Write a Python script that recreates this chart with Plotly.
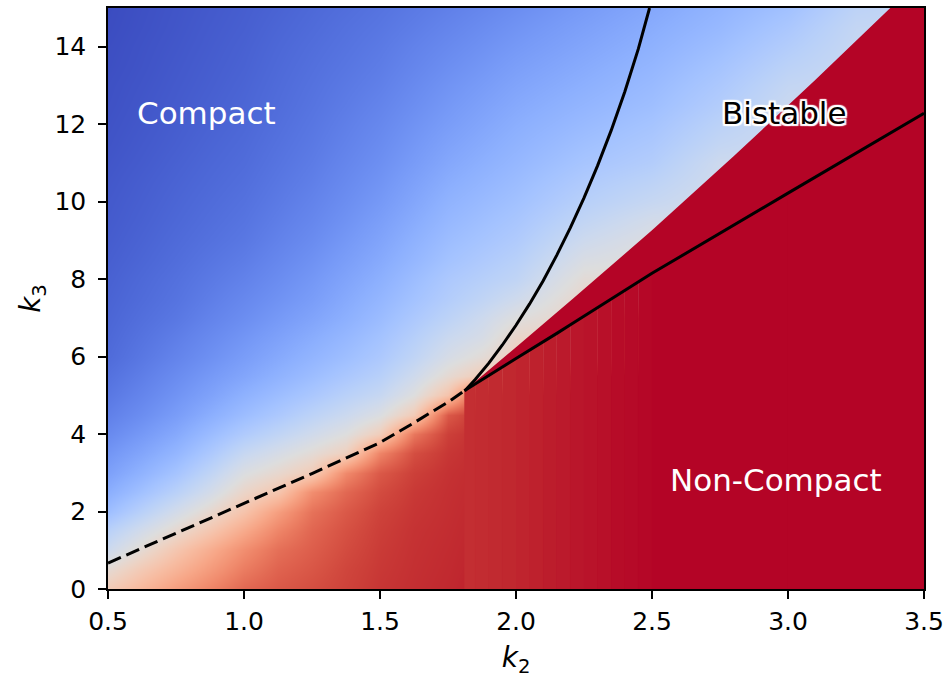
import plotly.graph_objects as go

# ---- axis extents -------------------------------------------------------
K2_RANGE = [0.5, 3.5]
K3_RANGE = [0, 15]
K2_TICKS = [0.5, 1.0, 1.5, 2.0, 2.5, 3.0, 3.5]
K3_TICKS = [0, 2, 4, 6, 8, 10, 12, 14]

# ---- order-parameter map (0 = compact, 1 = non-compact) -------------------
# one column of values per k2, listed from k3 = 0 up to k3 = 15 in steps of 0.5
K2_GRID = [0.5, 0.625, 0.75, 0.875, 1.0, 1.125, 1.25, 1.375, 1.5, 1.625,
           1.75, 1.875, 2.0, 2.25, 2.5, 2.75, 3.0, 3.25, 3.5]
K3_GRID = [i * 0.5 for i in range(31)]
FIELD_COLUMNS = [
    # k2 = 0.5
    [0.60, 0.53, 0.44, 0.38, 0.30, 0.245, 0.205, 0.175, 0.145, 0.12, 0.10, 0.085, 0.07, 0.063,
     0.057, 0.052, 0.047, 0.042, 0.037, 0.033, 0.03, 0.026, 0.022, 0.018, 0.015, 0.012, 0.01,
     0.007, 0.005, 0.002, 0.0],
    # k2 = 0.625
    [0.67, 0.61, 0.53, 0.46, 0.38, 0.31, 0.26, 0.22, 0.185, 0.155, 0.133, 0.116, 0.10, 0.089,
     0.079, 0.071, 0.065, 0.058, 0.052, 0.047, 0.043, 0.039, 0.034, 0.03, 0.026, 0.023, 0.02,
     0.017, 0.015, 0.012, 0.01],
    # k2 = 0.75
    [0.74, 0.68, 0.62, 0.54, 0.46, 0.38, 0.32, 0.27, 0.23, 0.195, 0.17, 0.15, 0.13, 0.115,
     0.10, 0.09, 0.083, 0.075, 0.068, 0.062, 0.057, 0.052, 0.047, 0.042, 0.038, 0.034, 0.031,
     0.028, 0.025, 0.022, 0.02],
    # k2 = 0.875
    [0.80, 0.75, 0.70, 0.62, 0.54, 0.46, 0.40, 0.34, 0.29, 0.245, 0.21, 0.185, 0.162, 0.145,
     0.128, 0.115, 0.104, 0.094, 0.084, 0.077, 0.071, 0.065, 0.06, 0.055, 0.05, 0.046, 0.042,
     0.039, 0.036, 0.033, 0.03],
    # k2 = 1.0
    [0.86, 0.82, 0.78, 0.71, 0.63, 0.555, 0.49, 0.42, 0.35, 0.295, 0.255, 0.22, 0.195, 0.175,
     0.155, 0.14, 0.125, 0.112, 0.10, 0.092, 0.085, 0.078, 0.072, 0.067, 0.062, 0.058, 0.054,
     0.05, 0.047, 0.043, 0.04],
    # k2 = 1.125
    [0.89, 0.87, 0.845, 0.80, 0.74, 0.62, 0.54, 0.47, 0.40, 0.34, 0.295, 0.258, 0.23, 0.207,
     0.185, 0.167, 0.152, 0.138, 0.125, 0.115, 0.106, 0.098, 0.091, 0.085, 0.079, 0.074, 0.07,
     0.066, 0.062, 0.057, 0.052],
    # k2 = 1.25
    [0.91, 0.895, 0.88, 0.865, 0.84, 0.78, 0.60, 0.52, 0.45, 0.39, 0.335, 0.295, 0.265, 0.24,
     0.215, 0.195, 0.18, 0.165, 0.15, 0.138, 0.128, 0.118, 0.11, 0.103, 0.097, 0.091, 0.086,
     0.081, 0.076, 0.07, 0.065],
    # k2 = 1.375
    [0.93, 0.925, 0.915, 0.905, 0.89, 0.86, 0.79, 0.58, 0.50, 0.435, 0.38, 0.335, 0.30, 0.275,
     0.25, 0.232, 0.215, 0.198, 0.182, 0.168, 0.156, 0.145, 0.135, 0.126, 0.118, 0.11, 0.103,
     0.096, 0.09, 0.084, 0.077],
    # k2 = 1.5
    [0.95, 0.946, 0.942, 0.937, 0.93, 0.915, 0.89, 0.80, 0.59, 0.49, 0.42, 0.375, 0.34, 0.315,
     0.29, 0.27, 0.25, 0.232, 0.215, 0.20, 0.185, 0.172, 0.16, 0.15, 0.14, 0.13, 0.12,
     0.112, 0.105, 0.097, 0.09],
    # k2 = 1.625
    [0.96, 0.958, 0.956, 0.954, 0.95, 0.945, 0.935, 0.91, 0.83, 0.60, 0.50, 0.445, 0.40, 0.37,
     0.34, 0.315, 0.295, 0.273, 0.255, 0.238, 0.222, 0.207, 0.192, 0.18, 0.168, 0.156, 0.145,
     0.134, 0.125, 0.114, 0.105],
    # k2 = 1.75
    [0.968, 0.966, 0.964, 0.962, 0.96, 0.958, 0.955, 0.948, 0.935, 0.89, 0.63, 0.53, 0.47, 0.43,
     0.39, 0.36, 0.34, 0.315, 0.295, 0.277, 0.26, 0.242, 0.225, 0.21, 0.195, 0.182, 0.17,
     0.157, 0.145, 0.132, 0.12],
    # k2 = 1.875
    [0.978, 0.976, 0.974, 0.972, 0.97, 0.968, 0.966, 0.964, 0.962, 0.96, 0.92, 0.60, 0.52, 0.47,
     0.44, 0.40, 0.37, 0.345, 0.322, 0.303, 0.285, 0.267, 0.25, 0.235, 0.22, 0.206, 0.192,
     0.178, 0.165, 0.151, 0.137],
    # k2 = 2.0
    [0.985, 0.984, 0.982, 0.98, 0.978, 0.976, 0.974, 0.972, 0.97, 0.968, 0.965, 0.62, 0.58, 0.55,
     0.50, 0.445, 0.40, 0.375, 0.35, 0.33, 0.31, 0.292, 0.275, 0.26, 0.245, 0.23, 0.215,
     0.20, 0.185, 0.17, 0.155],
    # k2 = 2.25
    [1, 1, 1, 1, 1, 1, 1, 1, 1, 1, 1, 1, 0.58, 0.57,
     0.56, 0.55, 0.52, 0.48, 0.44, 0.405, 0.375, 0.35, 0.325, 0.305, 0.285, 0.267, 0.25,
     0.235, 0.22, 0.205, 0.19],
    # k2 = 2.5
    [1, 1, 1, 1, 1, 1, 1, 1, 1, 1, 1, 1, 1, 1,
     1, 0.54, 0.53, 0.51, 0.49, 0.46, 0.42, 0.39, 0.36, 0.34, 0.32, 0.30, 0.285,
     0.27, 0.255, 0.24, 0.225],
    # k2 = 2.75
    [1, 1, 1, 1, 1, 1, 1, 1, 1, 1, 1, 1, 1, 1,
     1, 1, 1, 1, 0.48, 0.47, 0.46, 0.45, 0.44, 0.41, 0.385, 0.36, 0.34,
     0.32, 0.30, 0.28, 0.265],
    # k2 = 3.0
    [1, 1, 1, 1, 1, 1, 1, 1, 1, 1, 1, 1, 1, 1,
     1, 1, 1, 1, 1, 1, 1, 0.45, 0.445, 0.44, 0.435, 0.43, 0.41,
     0.385, 0.36, 0.335, 0.31],
    # k2 = 3.25
    [1, 1, 1, 1, 1, 1, 1, 1, 1, 1, 1, 1, 1, 1,
     1, 1, 1, 1, 1, 1, 1, 1, 1, 1, 1, 0.43, 0.43,
     0.425, 0.42, 0.41, 0.39],
    # k2 = 3.5
    [1, 1, 1, 1, 1, 1, 1, 1, 1, 1, 1, 1, 1, 1,
     1, 1, 1, 1, 1, 1, 1, 1, 1, 1, 1, 1, 1,
     1, 0.42, 0.42, 0.41],
]

# ---- phase boundaries ---------------------------------------------------
# dashed: compact / non-compact crossover, ends at the cusp
DASH_K2 = [0.5, 0.75, 1.0, 1.25, 1.5, 1.62, 1.76, 1.81]
DASH_K3 = [0.67, 1.44, 2.2, 2.98, 3.78, 4.27, 4.87, 5.12]
# upper spinodal (left edge of the bistable wedge)
UPPER_K2 = [1.812, 1.85, 1.90, 1.95, 2.00, 2.05, 2.10, 2.15, 2.20, 2.25, 2.30,
            2.35, 2.40, 2.45, 2.491]
UPPER_K3 = [5.12, 5.41, 5.83, 6.30, 6.81, 7.36, 7.96, 8.62, 9.33, 10.10, 10.93,
            11.84, 12.84, 13.95, 15.0]
# lower spinodal
LOWER_K2 = [1.81, 1.85, 1.9, 1.95, 2.0, 2.05, 2.1, 2.15, 2.2, 2.25, 2.3, 2.35,
            2.4, 2.45, 2.5, 3.0, 3.5]
LOWER_K3 = [5.12, 5.30, 5.51, 5.73, 5.95, 6.16, 6.38, 6.60, 6.82, 7.04, 7.27, 7.49,
            7.71, 7.93, 8.15, 10.22, 12.28]
# edge of the region where the non-compact branch is selected
EDGE_K2 = [1.81, 1.86, 1.92, 2.0, 2.21, 2.5, 2.8, 3.1, 3.376]
EDGE_K3 = [5.12, 5.41, 5.77, 6.24, 7.50, 9.26, 11.17, 13.14, 15.0]

# order parameter of the deep non-compact band under the lower spinodal,
# one value per stretch between consecutive LOWER_K2 points
BAND_V = [0.96, 0.963, 0.966, 0.969, 0.972, 0.975, 0.978, 0.981, 0.984, 0.987,
          0.99, 0.993, 0.995, 0.997, 1.0, 1.0]

# ---- coolwarm colormap --------------------------------------------------
COOLWARM = [
    (0.2298057, 0.298717966, 0.753683153), (0.26623388, 0.353094838, 0.801466763),
    (0.30386891, 0.406535296, 0.84495867), (0.342804478, 0.458757618, 0.883725899),
    (0.38301334, 0.50941904, 0.917387822), (0.424369608, 0.558148092, 0.945619588),
    (0.46666708, 0.604562568, 0.968154911), (0.509635204, 0.648280772, 0.98478814),
    (0.552953156, 0.688929332, 0.995375608), (0.596262162, 0.726149107, 0.999836203),
    (0.639176211, 0.759599947, 0.998151185), (0.681291281, 0.788964712, 0.990363227),
    (0.722193294, 0.813952739, 0.976574709), (0.761464949, 0.834302879, 0.956945269),
    (0.798691636, 0.849786142, 0.931688648), (0.833466556, 0.860207984, 0.901068838),
    (0.865395197, 0.86541021, 0.865395561), (0.897787179, 0.848937047, 0.820880546),
    (0.924127593, 0.827384882, 0.774508472), (0.944468518, 0.800927443, 0.726736146),
    (0.958852946, 0.769767752, 0.678007945), (0.96732803, 0.734132809, 0.628751763),
    (0.969954137, 0.694266682, 0.579375448), (0.966811177, 0.650421156, 0.530263762),
    (0.958003065, 0.602842431, 0.481775914), (0.943660866, 0.551750968, 0.434243684),
    (0.923944917, 0.49730856, 0.387970225), (0.89904617, 0.439559467, 0.343229596),
    (0.869186849, 0.378313092, 0.300267182), (0.834620542, 0.312874446, 0.259301199),
    (0.795631745, 0.24128379, 0.220525627), (0.752534934, 0.157246067, 0.184115123),
    (0.705673158, 0.01555616, 0.150232812),
]


def _rgb(c):
    return "rgb({:.0f},{:.0f},{:.0f})".format(*(255 * t for t in c))


CW_SCALE = [[i / (len(COOLWARM) - 1), _rgb(c)] for i, c in enumerate(COOLWARM)]


def coolwarm(v):
    n = len(COOLWARM) - 1
    p = min(max(v, 0.0), 1.0) * n
    i = min(int(p), n - 1)
    f = p - i
    a, b = COOLWARM[i], COOLWARM[i + 1]
    return _rgb(tuple(a[k] + f * (b[k] - a[k]) for k in range(3)))


FONT = "DejaVu Sans"

fig = go.Figure()

fig.add_trace(go.Heatmap(
    x=K2_GRID, y=K3_GRID, z=FIELD_COLUMNS, transpose=True, zsmooth="best",
    colorscale=CW_SCALE, zmin=0, zmax=1, showscale=False, hoverinfo="skip",
))

# deep non-compact band below the lower spinodal, drawn as narrow k2 stretches
for i, v in enumerate(BAND_V):
    k_a, k_b = LOWER_K2[i], LOWER_K2[i + 1]
    fig.add_trace(go.Scatter(
        x=[k_a, k_b, k_b, k_a],
        y=[K3_RANGE[0], K3_RANGE[0], LOWER_K3[i + 1], LOWER_K3[i]],
        mode="lines", line=dict(width=0.6, color=coolwarm(v)),
        fill="toself", fillcolor=coolwarm(v),
        hoverinfo="skip", showlegend=False,
    ))

# bistable wedge on the non-compact branch
fig.add_trace(go.Scatter(
    x=EDGE_K2 + [K2_RANGE[1]] + LOWER_K2[::-1],
    y=EDGE_K3 + [K3_RANGE[1]] + LOWER_K3[::-1],
    mode="lines", line=dict(width=0), fill="toself", fillcolor=coolwarm(1.0),
    hoverinfo="skip", showlegend=False,
))

fig.add_trace(go.Scatter(
    x=DASH_K2, y=DASH_K3, mode="lines",
    line=dict(color="black", width=3, dash="14px,6px"), showlegend=False,
))
fig.add_trace(go.Scatter(
    x=UPPER_K2, y=UPPER_K3, mode="lines",
    line=dict(color="black", width=3), showlegend=False,
))
fig.add_trace(go.Scatter(
    x=LOWER_K2, y=LOWER_K3, mode="lines",
    line=dict(color="black", width=3), showlegend=False,
))

halo = ", ".join(f"white {dx}px {dy}px 1px" for dx, dy in
                 [(2, 0), (-2, 0), (0, 2), (0, -2), (2, 2), (-2, -2), (2, -2), (-2, 2)])

labels = [
    ("Compact", 0.6, 12.29, "white", "none"),
    ("Bistable", 2.75, 12.29, "black", halo),
    ("Non-Compact", 2.56, 2.82, "white", "none"),
]
for text, x, y, color, shadow in labels:
    fig.add_annotation(
        x=x, y=y, text=text, showarrow=False, xanchor="left", yanchor="middle",
        font=dict(family=FONT, size=31, color=color, shadow=shadow),
    )

axis_common = dict(
    showgrid=False, zeroline=False, showline=True, linecolor="black", linewidth=1.5,
    mirror=True, ticks="outside", ticklen=8, tickwidth=1.5, tickcolor="black",
    tickfont=dict(family=FONT, size=25, color="black"),
)
fig.update_xaxes(
    range=K2_RANGE, tickvals=K2_TICKS, tickformat=".1f", ticklabelstandoff=1,
    title=dict(text="<i>k</i><sub>2</sub>", font=dict(family=FONT, size=28, color="black"),
               standoff=14),
    **axis_common,
)
fig.update_yaxes(
    range=K3_RANGE, tickvals=K3_TICKS, ticklabelstandoff=7,
    title=dict(text="<i>k</i><sub>3</sub>", font=dict(family=FONT, size=28, color="black"),
               standoff=6),
    **axis_common,
)
fig.update_layout(
    width=950, height=678, margin=dict(l=108, r=22, t=6, b=89),
    paper_bgcolor="white", plot_bgcolor="white",
)

fig.write_html("out.html")
